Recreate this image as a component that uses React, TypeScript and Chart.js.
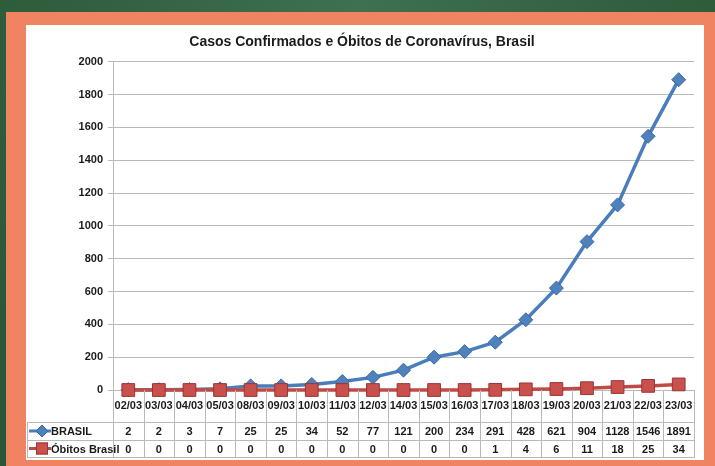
import React, { useEffect, useRef } from 'react';
import { Chart, registerables } from 'chart.js';

Chart.register(...registerables);

const chartTitle = 'Casos Confirmados e Óbitos de Coronavírus, Brasil';
const categories = ['02/03', '03/03', '04/03', '05/03', '08/03', '09/03', '10/03', '11/03', '12/03', '14/03', '15/03', '16/03', '17/03', '18/03', '19/03', '20/03', '21/03', '22/03', '23/03'];
const seriesNames = ['BRASIL', 'Óbitos Brasil'];
const brasil = [2, 2, 3, 7, 25, 25, 34, 52, 77, 121, 200, 234, 291, 428, 621, 904, 1128, 1546, 1891];
const obitos = [0, 0, 0, 0, 0, 0, 0, 0, 0, 0, 0, 0, 1, 4, 6, 11, 18, 25, 34];
const yMin = 0;
const yMax = 2000;
const yStep = 200;

const FONT = "'Liberation Sans', Arial, sans-serif";
const BLUE = '#4A7EBB';
const BLUE_FILL = '#4F81BD';
const BLUE_EDGE = '#3A69A3';
const RED = '#BE4B48';
const RED_FILL = '#C9504C';
const RED_EDGE = '#9A3532';
const TEXT = '#1b1b1b';
const LINE = '#b9b9b9';

function diamond(ctx: CanvasRenderingContext2D, x: number, y: number, r: number) {
  ctx.beginPath();
  ctx.moveTo(x, y - r);
  ctx.lineTo(x + r, y);
  ctx.lineTo(x, y + r);
  ctx.lineTo(x - r, y);
  ctx.closePath();
}

const tablePlugin = {
  id: 'dataTable',
  afterDraw(chart: any) {
    const ctx: CanvasRenderingContext2D = chart.ctx;
    const xs = chart.scales.x;
    const n = categories.length;
    const w = (xs.right - xs.left) / n;
    const top = chart.chartArea.bottom;
    const rowTop = top + 32;
    const rowMid = top + 50;
    const rowBot = top + 67;
    const leftEdge = 1;
    ctx.save();
    ctx.strokeStyle = LINE;
    ctx.lineWidth = 1;
    ctx.beginPath();
    for (let k = 0; k <= n; k++) {
      const x = Math.round(xs.left + k * w) + 0.5;
      ctx.moveTo(x, top);
      ctx.lineTo(x, rowBot);
    }
    ctx.moveTo(leftEdge + 0.5, rowTop);
    ctx.lineTo(leftEdge + 0.5, rowBot);
    [rowTop, rowMid, rowBot].forEach((yy) => {
      const y = Math.round(yy) + 0.5;
      ctx.moveTo(leftEdge, y);
      ctx.lineTo(Math.round(xs.right) + 1, y);
    });
    ctx.stroke();

    // values
    ctx.fillStyle = TEXT;
    ctx.font = `bold 11px ${FONT}`;
    ctx.textAlign = 'center';
    ctx.textBaseline = 'middle';
    const rows = [brasil, obitos];
    const rowY = [(rowTop + rowMid) / 2 + 1, (rowMid + rowBot) / 2 + 1];
    rows.forEach((vals, r) => {
      vals.forEach((v, i) => {
        ctx.fillText(String(v), xs.getPixelForValue(i), rowY[r]);
      });
    });

    // legend keys
    ctx.textAlign = 'left';
    ctx.font = `bold 11px ${FONT}`;
    const keyY0 = rowY[0] - 1;
    const keyY1 = rowY[1] - 1;
    ctx.lineWidth = 3;
    ctx.strokeStyle = BLUE;
    ctx.beginPath();
    ctx.moveTo(3, keyY0);
    ctx.lineTo(25, keyY0);
    ctx.stroke();
    ctx.lineWidth = 1;
    diamond(ctx, 16, keyY0, 6);
    ctx.fillStyle = BLUE_FILL;
    ctx.fill();
    ctx.strokeStyle = BLUE_EDGE;
    ctx.stroke();

    ctx.lineWidth = 3;
    ctx.strokeStyle = RED;
    ctx.beginPath();
    ctx.moveTo(3, keyY1);
    ctx.lineTo(25, keyY1);
    ctx.stroke();
    ctx.lineWidth = 1;
    ctx.fillStyle = RED_FILL;
    ctx.fillRect(10, keyY1 - 6, 12, 12);
    ctx.strokeStyle = RED_EDGE;
    ctx.strokeRect(10.5, keyY1 - 5.5, 11, 11);

    ctx.fillStyle = TEXT;
    ctx.fillText(seriesNames[0], 25, rowY[0]);
    ctx.fillText(seriesNames[1], 25, rowY[1]);
    ctx.restore();
  },
};

export default function App() {
  const ref = useRef<HTMLCanvasElement>(null);

  useEffect(() => {
    if (!ref.current) return;
    const chart = new Chart(ref.current, {
      type: 'line',
      data: {
        labels: categories,
        datasets: [
          {
            label: seriesNames[0],
            data: brasil,
            borderColor: BLUE,
            backgroundColor: BLUE_FILL,
            pointBackgroundColor: BLUE_FILL,
            pointBorderColor: BLUE_EDGE,
            pointBorderWidth: 1,
            borderWidth: 3.5,
            pointStyle: 'rectRot',
            pointRadius: 7,
            tension: 0,
            order: 1,
            clip: false as any,
          },
          {
            label: seriesNames[1],
            data: obitos,
            borderColor: RED,
            backgroundColor: RED_FILL,
            pointBackgroundColor: RED_FILL,
            pointBorderColor: RED_EDGE,
            pointBorderWidth: 1,
            borderWidth: 3.5,
            pointStyle: 'rect',
            pointRadius: 9,
            tension: 0,
            order: 0,
            clip: false as any,
          },
        ],
      },
      options: {
        animation: false,
        responsive: false,
        maintainAspectRatio: false,
        layout: { padding: { left: 0, right: 6, top: 0, bottom: 0 } },
        plugins: {
          legend: { display: false },
          tooltip: { enabled: false },
          title: {
            display: true,
            text: chartTitle,
            color: TEXT,
            font: { family: FONT, size: 14, weight: 'bold', lineHeight: 1.2 },
            padding: { top: 9, bottom: 11 },
          },
        },
        scales: {
          x: {
            type: 'category',
            offset: true,
            grid: { display: false, drawTicks: false },
            border: { display: true, color: LINE, width: 1 },
            ticks: {
              color: TEXT,
              font: { family: FONT, size: 11, weight: 'bold' },
              padding: 9,
              maxRotation: 0,
              autoSkip: false,
            },
            afterFit: (s: any) => {
              s.height = 70;
            },
          },
          y: {
            min: yMin,
            max: yMax,
            ticks: {
              stepSize: yStep,
              color: TEXT,
              font: { family: FONT, size: 11, weight: 'bold' },
              padding: 5,
              callback: (v: any) => String(v),
            },
            grid: { color: LINE, lineWidth: 1, tickLength: 5, drawTicks: true },
            border: { display: true, color: LINE, width: 1 },
            afterFit: (s: any) => {
              s.width = 87;
            },
          },
        },
      },
      plugins: [tablePlugin],
    });
    return () => chart.destroy();
  }, []);

  return (
    <div
      style={{
        position: 'fixed',
        left: 0,
        top: 0,
        width: 715,
        height: 466,
        overflow: 'hidden',
        background: 'radial-gradient(ellipse 70% 120% at 50% 0%, #3f7050 0%, #30603f 55%, #2a5736 100%)',
      }}
    >
      <div
        style={{
          position: 'absolute',
          left: 6,
          top: 12,
          width: 715 - 6,
          height: 466 - 12,
          background: '#F08462',
        }}
      />
      <div
        style={{
          position: 'absolute',
          left: 26,
          top: 25,
          width: 678,
          height: 435,
          background: '#ffffff',
        }}
      >
        <canvas ref={ref} width={678} height={435} style={{ display: 'block', width: 678, height: 435 }} />
      </div>
    </div>
  );
}
